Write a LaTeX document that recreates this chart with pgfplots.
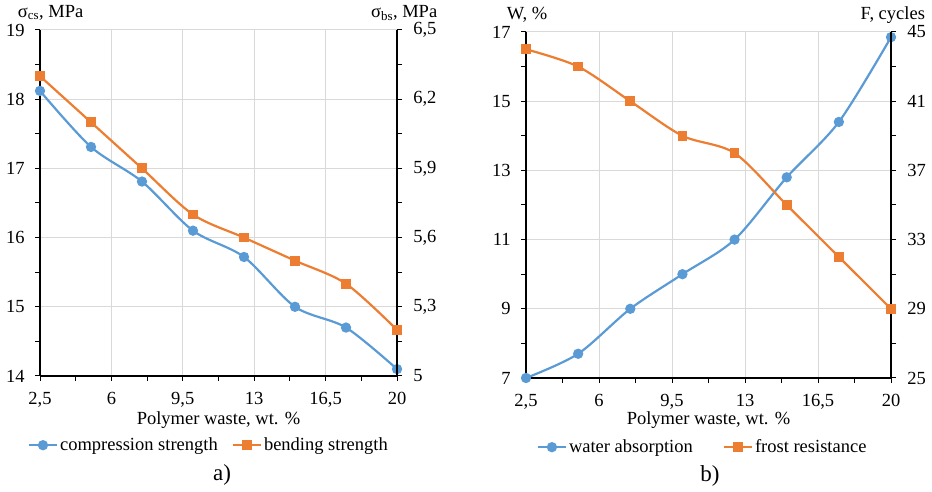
\documentclass[border=0pt]{standalone}
\usepackage{fontspec}
\setmainfont{Liberation Serif}
\usepackage{pgfplots}
\pgfplotsset{compat=1.18}

\definecolor{xlblue}{HTML}{5B9BD5}
\definecolor{xlorange}{HTML}{ED7D31}
\definecolor{gridgray}{HTML}{D9D9D9}

\pgfplotsset{
  base/.style={
    scale only axis, anchor=south west,
    xmin=2.5, xmax=20, clip=false,
    tick align=outside,
    major tick length=5pt, minor tick length=5pt,
    tick style={black, line width=1pt},
    axis line style={-, black, line width=1.3pt},
    /pgf/number format/assume math mode=true,
    /pgf/number format/use comma,
  },
  lower/.style={base,
    axis x line*=bottom, axis y line*=left,
    xtick={2.5,6,9.5,13,16.5,20}, minor x tick num=1,
    minor y tick num=1,
    xmajorgrids, ymajorgrids,
    grid style={gridgray, line width=1pt},
    xticklabel style={yshift=-5pt},
    yticklabel style={xshift=-4pt},
  },
  upper/.style={base,
    axis x line=none, axis y line*=right,
    minor y tick num=1,
    yticklabel style={xshift=5pt},
    legend style={draw=none, fill=none, legend columns=2, inner sep=0pt,
      /tikz/every even column/.append style={column sep=12pt}},
    legend image code/.code={
      \draw[mark repeat=2, mark phase=2, #1] plot coordinates {(0pt,0pt) (14pt,0pt) (28pt,0pt)};},
  },
  blueline/.style={xlblue, line width=2.2pt, smooth, mark=*, mark size=4pt, mark options={solid}},
  orangeline/.style={xlorange, line width=2.2pt, smooth, mark=square*, mark size=3.8pt, mark options={solid}},
}

\begin{document}
\fontsize{18.5}{22}\selectfont
\begin{tikzpicture}
\useasboundingbox (0,0) rectangle (932pt,492pt);

% panel a)
\begin{axis}[lower, at={(40pt,116pt)}, width=357pt, height=346pt,
  ymin=14, ymax=19, ytick={14,15,...,19},
  xlabel={Polymer waste, wt. \%},
  xlabel style={at={(axis description cs:0.5,-0.127)}, anchor=center},
  ylabel={σ\textsubscript{cs}, MPa},
  ylabel style={rotate=-90, at={(axis description cs:0.03,1.05)}, anchor=center}]
\addplot[blueline] coordinates {(2.5,18.12) (5,17.31) (7.5,16.81) (10,16.1) (12.5,15.72) (15,15.0) (17.5,14.7) (20,14.1)};
\end{axis}
\begin{axis}[upper, at={(40pt,116pt)}, width=357pt, height=346pt,
  ymin=5, ymax=6.5, ytick={5,5.3,5.6,5.9,6.2,6.5},
  ylabel={σ\textsubscript{bs}, MPa},
  ylabel style={rotate=-90, at={(axis description cs:1.02,1.05)}, anchor=center},
  legend style={at={(0.473,-0.2)}, anchor=center}]
\addlegendimage{blueline}
\addlegendentry{compression strength}
\addplot[orangeline] coordinates {(2.5,6.3) (5,6.1) (7.5,5.9) (10,5.7) (12.5,5.6) (15,5.5) (17.5,5.4) (20,5.2)};
\addlegendentry{bending strength}
\end{axis}

% panel b)
\begin{axis}[lower, at={(526pt,114pt)}, width=365pt, height=346pt,
  ymin=7, ymax=17, ytick={7,9,...,17},
  xlabel={Polymer waste, wt. \%},
  xlabel style={at={(axis description cs:0.5,-0.121)}, anchor=center},
  ylabel={W, \%},
  ylabel style={rotate=-90, at={(axis description cs:0.003,1.051)}, anchor=center}]
\addplot[blueline] coordinates {(2.5,7.0) (5,7.7) (7.5,9.0) (10,10.0) (12.5,11.0) (15,12.8) (17.5,14.4) (20,16.85)};
\end{axis}
\begin{axis}[upper, at={(526pt,114pt)}, width=365pt, height=346pt,
  ymin=25, ymax=45, ytick={25,29,...,45},
  ylabel={F, cycles},
  ylabel style={rotate=-90, at={(axis description cs:1.005,1.05)}, anchor=center},
  legend style={at={(0.484,-0.2)}, anchor=center,
    /tikz/every even column/.append style={column sep=28pt}}]
\addlegendimage{blueline}
\addlegendentry{water absorption}
\addplot[orangeline] coordinates {(2.5,44) (5,43) (7.5,41) (10,39) (12.5,38) (15,35) (17.5,32) (20,29)};
\addlegendentry{frost resistance}
\end{axis}

\node[font=\fontsize{23}{26}\selectfont] at (222pt,17pt) {a)};
\node[font=\fontsize{23}{26}\selectfont] at (710pt,16pt) {b)};
\end{tikzpicture}
\end{document}
